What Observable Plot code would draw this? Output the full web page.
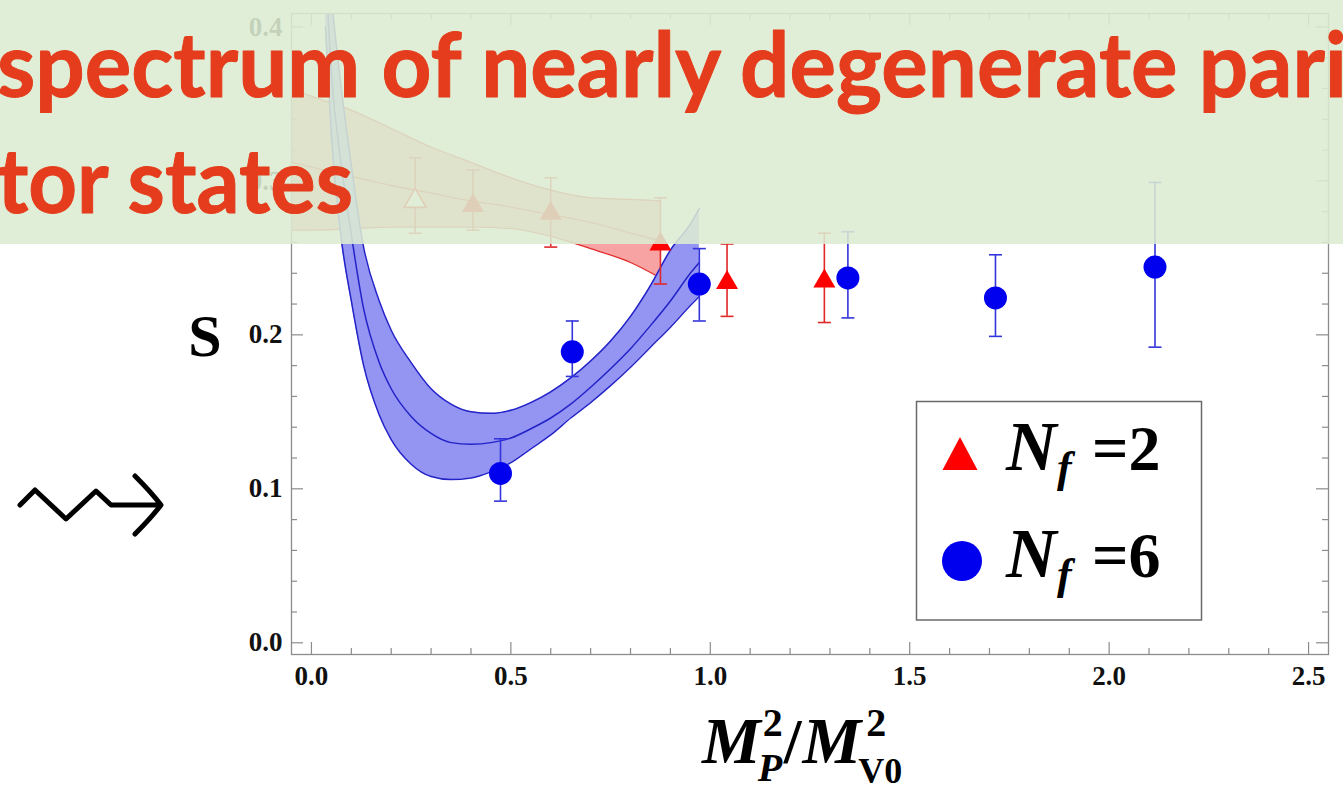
<!DOCTYPE html>
<html>
<head>
<meta charset="utf-8">
<script src="https://cdn.jsdelivr.net/npm/d3@7"></script>
<script src="https://cdn.jsdelivr.net/npm/@observablehq/plot@0.6"></script>
<style>
  html, body { margin: 0; padding: 0; background: #fff; }
  #stage { position: relative; width: 1343px; height: 786px; overflow: hidden; }
  #chart svg { display: block; }
  #overlay { position: absolute; left: 0; top: 0; pointer-events: none; }
</style>
</head>
<body>
<div id="stage">
  <div id="chart"></div>
  <svg id="overlay" width="1343" height="786" viewBox="0 0 1343 786"></svg>
</div>
<script>
// ---- measured points: S vs M_P^2 / M_V0^2 ----
const nf2X  = [0.26, 0.405, 0.60, 0.875, 1.042, 1.286];
const nf2S  = [0.287, 0.284, 0.279, 0.259, 0.234, 0.235];
const nf2Lo = [0.266, 0.268, 0.257, 0.233, 0.212, 0.208];
const nf2Hi = [0.315, 0.307, 0.302, 0.289, 0.259, 0.266];
const nf2Open = [true, false, false, false, false, false];

const nf6X  = [0.474, 0.654, 0.9725, 1.345, 1.715, 2.115];
const nf6S  = [0.110, 0.189, 0.233, 0.237, 0.224, 0.244];
const nf6Lo = [0.092, 0.173, 0.209, 0.211, 0.199, 0.192];
const nf6Hi = [0.1325, 0.209, 0.256, 0.267, 0.252, 0.299];

// ---- fit bands (lower / central / upper) ----
const fit2X   = [-0.05, 0.0, 0.1, 0.2, 0.3, 0.4, 0.5, 0.6, 0.7, 0.8, 0.875];
const fit2Lo  = [0.268, 0.268, 0.269, 0.270, 0.270, 0.270, 0.269, 0.264, 0.256, 0.247, 0.237];
const fit2Mid = [0.312, 0.309, 0.303, 0.297, 0.292, 0.287, 0.283, 0.278, 0.273, 0.266, 0.261];
const fit2Hi  = [0.360, 0.355, 0.346, 0.334, 0.322, 0.312, 0.302, 0.294, 0.289, 0.288, 0.287];

const fit6X   = [0.035, 0.05, 0.075, 0.1, 0.13, 0.17, 0.2, 0.25, 0.3, 0.35, 0.4, 0.45, 0.5, 0.55, 0.6, 0.65, 0.7, 0.75, 0.8, 0.85, 0.9, 0.95, 0.9725];
const fit6Lo  = [0.40, 0.33, 0.262, 0.222, 0.181, 0.148, 0.132, 0.116, 0.108, 0.106, 0.107, 0.111, 0.117, 0.126, 0.135, 0.146, 0.156, 0.167, 0.179, 0.192, 0.205, 0.219, 0.225];
const fit6Mid = [0.44, 0.37, 0.31, 0.265, 0.218, 0.182, 0.165, 0.147, 0.136, 0.130, 0.129, 0.130, 0.133, 0.139, 0.146, 0.155, 0.166, 0.178, 0.191, 0.206, 0.222, 0.240, 0.247];
const fit6Hi  = [0.47, 0.42, 0.36, 0.31, 0.258, 0.222, 0.203, 0.182, 0.165, 0.155, 0.150, 0.149, 0.151, 0.156, 0.163, 0.172, 0.183, 0.196, 0.212, 0.232, 0.255, 0.272, 0.282];

// ---- axis ticks ----
const xMajor = [0, 0.5, 1.0, 1.5, 2.0, 2.5];
const xMinor = d3.range(1, 25).map(i => i / 10).filter(v => Math.abs(v * 2 - Math.round(v * 2)) > 1e-9);
const yMajor = [0, 0.1, 0.2, 0.3, 0.4];
const yMinor = d3.range(1, 21).map(i => i / 50).filter(v => Math.abs(v * 10 - Math.round(v * 10)) > 1e-9);
const xTickLabels = ["0.0", "0.5", "1.0", "1.5", "2.0", "2.5"];
const yTickLabels = ["0.0", "0.1", "0.2", "0.3", "0.4"];

// ---- tables built from the arrays ----
const nf2 = nf2X.map((x, i) => ({x, s: nf2S[i], lo: nf2Lo[i], hi: nf2Hi[i], open: nf2Open[i]}));
const nf6 = nf6X.map((x, i) => ({x, s: nf6S[i], lo: nf6Lo[i], hi: nf6Hi[i]}));
const band2 = fit2X.map((x, i) => ({x, lo: fit2Lo[i], mid: fit2Mid[i], hi: fit2Hi[i]}));
const band6 = fit6X.map((x, i) => ({x, lo: fit6Lo[i], mid: fit6Mid[i], hi: fit6Hi[i]}));

// ---- layout ----
const W = 1343, H = 786;
const mTop = 13, mBottom = 132, mLeft = 291, mRight = 15;
const innerW = W - mLeft - mRight;
const innerH = H - mTop - mBottom;
const frameGray = "#8c8c8c";
const serif = "'Liberation Serif', 'Times New Roman', serif";

const RED = "#ff0000", RED_LINE = "#e02828", RED_FILL = "#f7a3a3";
const BLUE = "#0000ee", BLUE_LINE = "#2323c8", BLUE_FILL = "#9494f3", BLUE_BAR = "#3434dc";

// error-bar cap and marker shapes
const cap = {draw(ctx) { ctx.moveTo(-6.5, 0); ctx.lineTo(6.5, 0); }};
const tri = {draw(ctx) { ctx.moveTo(0, -12.5); ctx.lineTo(11, 6.5); ctx.lineTo(-11, 6.5); ctx.closePath(); }};

const chart = Plot.plot({
  width: W, height: H,
  marginTop: mTop, marginBottom: mBottom, marginLeft: mLeft, marginRight: mRight,
  style: {background: "white", overflow: "visible"},
  x: {domain: [-0.05, 2.55], axis: null},
  y: {domain: [-0.0076, 0.4087], axis: null},
  marks: [
    // N_f = 2 fit band
    Plot.areaY(band2, {x: "x", y1: "lo", y2: "hi", fill: RED_FILL, curve: "monotone-x", clip: true}),
    Plot.line(band2, {x: "x", y: "lo", stroke: RED_LINE, strokeWidth: 1.3, curve: "monotone-x", clip: true}),
    Plot.line(band2, {x: "x", y: "mid", stroke: RED_LINE, strokeWidth: 1.3, curve: "monotone-x", clip: true}),
    Plot.line(band2, {x: "x", y: "hi", stroke: RED_LINE, strokeWidth: 1.3, curve: "monotone-x", clip: true}),
    // N_f = 6 fit band
    Plot.areaY(band6, {x: "x", y1: "lo", y2: "hi", fill: BLUE_FILL, curve: "monotone-x", clip: true}),
    Plot.line(band6, {x: "x", y: "lo", stroke: BLUE_LINE, strokeWidth: 1.5, curve: "monotone-x", clip: true}),
    Plot.line(band6, {x: "x", y: "mid", stroke: BLUE_LINE, strokeWidth: 1.5, curve: "monotone-x", clip: true}),
    Plot.line(band6, {x: "x", y: "hi", stroke: BLUE_LINE, strokeWidth: 1.5, curve: "monotone-x", clip: true}),
    // error bars
    Plot.ruleX(nf2, {x: "x", y1: "lo", y2: "hi", stroke: RED_LINE, strokeWidth: 1.6}),
    Plot.dot(nf2, {x: "x", y: "lo", symbol: cap, stroke: RED_LINE, strokeWidth: 1.6, fill: "none"}),
    Plot.dot(nf2, {x: "x", y: "hi", symbol: cap, stroke: RED_LINE, strokeWidth: 1.6, fill: "none"}),
    Plot.ruleX(nf6, {x: "x", y1: "lo", y2: "hi", stroke: BLUE_BAR, strokeWidth: 1.6}),
    Plot.dot(nf6, {x: "x", y: "lo", symbol: cap, stroke: BLUE_BAR, strokeWidth: 1.6, fill: "none"}),
    Plot.dot(nf6, {x: "x", y: "hi", symbol: cap, stroke: BLUE_BAR, strokeWidth: 1.6, fill: "none"}),
    // markers
    Plot.dot(nf2.filter(d => d.open), {x: "x", y: "s", symbol: tri, fill: "white", stroke: RED, strokeWidth: 1.6}),
    Plot.dot(nf2.filter(d => !d.open), {x: "x", y: "s", symbol: tri, fill: RED, stroke: "none"}),
    Plot.dot(nf6, {x: "x", y: "s", r: 11.5, fill: BLUE, stroke: "none"}),
    // frame with inward ticks on all four sides
    Plot.frame({stroke: frameGray, strokeWidth: 1.3}),
    Plot.tickX(xMajor, {x: d => d, insetTop: innerH - 12, stroke: frameGray, strokeWidth: 1.2}),
    Plot.tickX(xMinor, {x: d => d, insetTop: innerH - 6, stroke: frameGray, strokeWidth: 1.2}),
    Plot.tickX(xMajor, {x: d => d, insetBottom: innerH - 12, stroke: frameGray, strokeWidth: 1.2}),
    Plot.tickX(xMinor, {x: d => d, insetBottom: innerH - 6, stroke: frameGray, strokeWidth: 1.2}),
    Plot.tickY(yMajor, {y: d => d, insetRight: innerW - 12, stroke: frameGray, strokeWidth: 1.2}),
    Plot.tickY(yMinor, {y: d => d, insetRight: innerW - 6, stroke: frameGray, strokeWidth: 1.2}),
    Plot.tickY(yMajor, {y: d => d, insetLeft: innerW - 12, stroke: frameGray, strokeWidth: 1.2}),
    Plot.tickY(yMinor, {y: d => d, insetLeft: innerW - 6, stroke: frameGray, strokeWidth: 1.2}),
    // tick labels
    Plot.text(xMajor, {x: d => d, frameAnchor: "bottom", dy: 30, text: (d, i) => xTickLabels[i],
      fontSize: 27, fontWeight: "bold", fontFamily: serif, fill: "#111"}),
    Plot.text(yMajor, {y: d => d, frameAnchor: "left", dx: -9, textAnchor: "end", text: (d, i) => yTickLabels[i],
      fontSize: 27, fontWeight: "bold", fontFamily: serif, fill: "#111"})
  ]
});

document.getElementById("chart").appendChild(chart);

// ---- axis titles and legend, drawn into the plot's svg ----
const svg = d3.select(chart);

function piece(g, str, x, y, size, italic, anchor = "start") {
  return g.append("text").attr("x", x).attr("y", y)
    .attr("text-anchor", anchor)
    .attr("font-family", serif).attr("font-weight", "bold")
    .attr("font-style", italic ? "italic" : "normal")
    .attr("font-size", size).attr("fill", "#000").text(str);
}
const width = sel => sel.node().getComputedTextLength();

// y title
piece(svg, "S", 205, 356, 60, false, "middle");

// x title: M_P^2 / M_V0^2
const xt = svg.append("g");
let cx = 702;
let t = piece(xt, "M", cx, 763, 66, true);
cx += width(t) - 3;
let a = piece(xt, "2", cx + 5, 736, 40, false);
let b = piece(xt, "P", cx, 781, 40, true);
cx += Math.max(width(a) + 5, width(b)) + 1;
t = piece(xt, "/", cx, 763, 64, false);
cx += width(t) + 1;
t = piece(xt, "M", cx, 763, 66, true);
cx += width(t) - 3;
piece(xt, "2", cx + 8, 736, 40, false);
piece(xt, "V0", cx, 783, 36, false);

// legend
const lg = svg.append("g");
lg.append("rect").attr("x", 916.5).attr("y", 401.5).attr("width", 285).attr("height", 218.5)
  .attr("fill", "white").attr("stroke", "#6a6a6a").attr("stroke-width", 1.5);
lg.append("path").attr("d", "M960,437L977.5,470L942.5,470Z").attr("fill", RED);
lg.append("circle").attr("cx", 962).attr("cy", 561).attr("r", 20).attr("fill", BLUE);
[[470, "=2"], [577, "=6"]].forEach(([base, lab]) => {
  piece(lg, "N", 1006, base, 70, true);
  piece(lg, "f", 1057, base + 12, 44, true);
  piece(lg, lab, 1092, base, 64, false);
});

// ---- slide overlay: headline banner and arrow ----
const ov = d3.select("#overlay");
ov.append("rect").attr("x", 0).attr("y", 0).attr("width", W).attr("height", 244)
  .attr("fill", "rgb(220,236,210)").attr("fill-opacity", 0.88);
const headFont = "Lato, 'Open Sans', sans-serif";
ov.append("text").attr("x", -3).attr("y", 97)
  .attr("textLength", 1350).attr("lengthAdjust", "spacingAndGlyphs")
  .attr("font-family", headFont).attr("font-weight", 700).attr("font-size", 90)
  .attr("fill", "#e43c1c").attr("stroke", "#e43c1c").attr("stroke-width", 1).attr("stroke-linejoin", "round")
  .text("spectrum of nearly degenerate pari");
ov.append("text").attr("x", -3).attr("y", 213)
  .attr("textLength", 356).attr("lengthAdjust", "spacingAndGlyphs")
  .attr("font-family", headFont).attr("font-weight", 700).attr("font-size", 90)
  .attr("fill", "#e43c1c").attr("stroke", "#e43c1c").attr("stroke-width", 1).attr("stroke-linejoin", "round")
  .text("tor states");
ov.append("path")
  .attr("d", "M20,505L35,490L66,519L96,491L111,505L160,505M135,476Q151,492 161,505Q151,518 135,534")
  .attr("fill", "none").attr("stroke", "#000").attr("stroke-width", 5)
  .attr("stroke-linejoin", "round").attr("stroke-linecap", "round");
</script>
</body>
</html>
